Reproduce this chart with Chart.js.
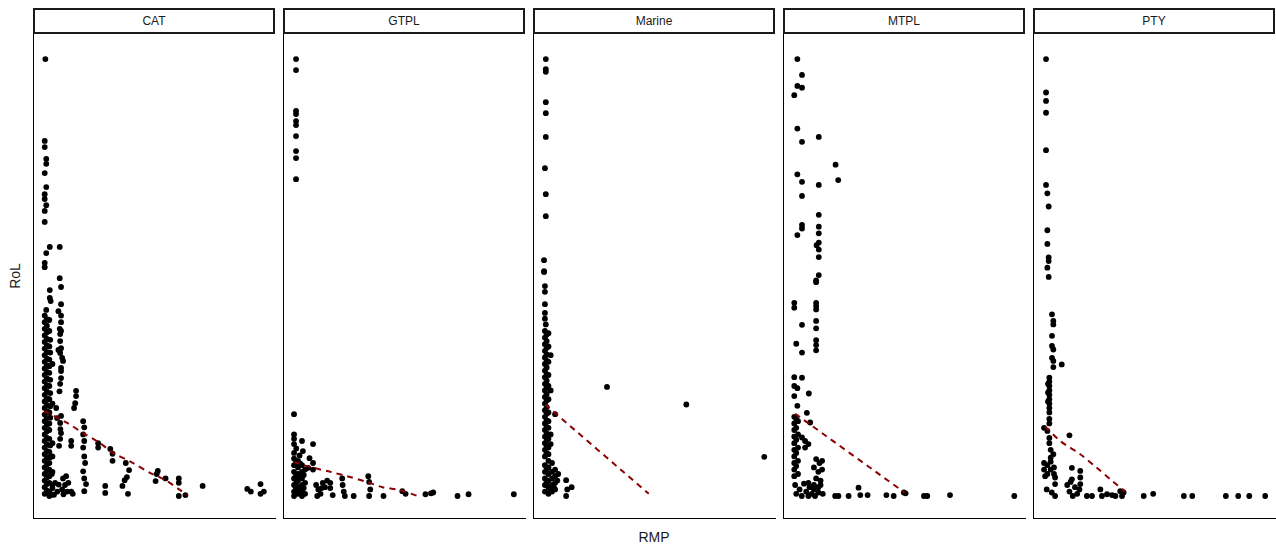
<!DOCTYPE html>
<html>
<head>
<meta charset="utf-8">
<script src="https://cdn.jsdelivr.net/npm/chart.js@4.4.0/dist/chart.umd.min.js"></script>
<style>
  body { margin: 0; background: #fff; width: 1276px; height: 546px; position: relative; overflow: hidden; font-family: "Liberation Sans", Arial, sans-serif; }
  .strip { position: absolute; top: 8px; height: 26px; width: 242px; box-sizing: border-box; border: 2px solid #1a1a1a; text-align: center; font-size: 12px; line-height: 22px; color: #1a1a1a; }
  .panel { position: absolute; top: 34px; }
  .panel canvas { display: block; }
  .ytitle { position: absolute; left: 15px; top: 276px; transform: translate(-50%, -50%) rotate(-90deg); font-size: 14px; color: #1a1a1a; }
  .xtitle { position: absolute; left: 654px; top: 537px; transform: translate(-50%, -50%); font-size: 14px; color: #1a1a1a; }
</style>
</head>
<body>
<div class="ytitle">RoL</div>
<div class="xtitle">RMP</div>
<div id="wrap"></div>
<script>
// facet labels
const facets = ['CAT', 'GTPL', 'Marine', 'MTPL', 'PTY'];

// points per facet, [RMP, RoL]
const catPoints = [
  [0.6,99.3],[0.3,80.7],[0.3,79.3],[1,76.6],[1,75.5],[0.3,73.4],[1,70.2],[0.3,68.6],[0.3,67.5],[1,66.1],[0.3,64.8],[0.3,62.3],
  [2.6,56.6],[7.1,56.6],[1,55.2],[0.3,53],[0.3,52],[7.1,49.5],[7.7,47.5],[2.6,46.8],[2.6,45],[3,44.3],[7.7,43.6],[1,42.3],
  [6.5,42],[7.7,41],[7.7,39.5],[7.1,38],[7.7,37.5],[7.3,36.8],[7.3,35.2],[7.7,33.6],[7.3,32.5],[8.2,31.4],[8.6,30.7],[7.7,29.1],
  [7.7,28.4],[7.7,26.8],[7.3,25.5],[14.5,23.9],[14.5,22.7],[14.1,21.1],[13.6,20],[5.5,20],[5.9,17.7],[7.7,18.2],[7.3,16.6],
  [7.7,14.3],[7.3,13],[6.8,11.4],[17.7,17],[18.2,15.6],[17.7,14],[18.2,12.5],[17.7,11],[18.2,9],[18.6,7.5],[17.7,5.6],[18.2,4],
  [18.2,1.1],[12.3,12.5],[12.3,11.4],[24.5,12],[24.5,11],[30,10.7],[31,9.6],[31,8],[37,7.5],[38.5,5.9],[37.5,4.3],[36.5,3.6],
  [35.5,2.3],[38,0.5],[27.7,2.3],[27.7,0.7],[19,2.7],[8.6,4],[9.5,2.5],[10.5,1],[8.2,1.5],[12.3,1],[11,3],[51,5],[50.5,3.4],
  [51.5,5.7],[55,4],[61,4],[61,3],[61,0],[64,0.2],[71.8,2.3],[92,1.6],[93.6,1],[98,2.7],[99.5,1],[98,0.5],
  [0.3,41],[0.3,39.5],[0.3,38],[0.3,36.5],[0.3,35],[0.3,33.5],[0.3,32],[0.3,30.5],[0.3,29],[0.3,27.5],[0.3,26],[0.3,24.5],
  [0.3,23],[0.3,21.5],[0.3,20],[0.3,18.5],[0.3,17],[0.3,15.5],[0.3,14],[0.3,12.5],[0.3,11],[0.3,9.5],[0.3,8],[0.3,6.5],
  [0.3,5],[0.3,3.5],[0.3,2],[0.3,0.5],
  [1.3,40.2],[1.3,38.7],[1.3,37.2],[1.3,35.7],[1.3,34.2],[1.3,32.7],[1.3,31.2],[1.3,29.7],[1.3,28.2],[1.3,26.7],[1.3,25.2],
  [1.3,23.7],[1.3,22.2],[1.3,20.7],[1.3,19.2],[1.3,17.7],[1.3,16.2],[1.3,14.7],[1.3,13.2],[1.3,11.7],[1.3,10.2],[1.3,8.7],
  [1.3,7.2],[1.3,5.7],[1.3,4.2],[1.3,2.7],[1.3,1.2],
  [2.4,40],[2.4,37.5],[2.4,34],[2.4,31],[2.4,29.5],[2.4,28],[2.4,25],[2.4,22],[2.4,19],[2.4,16.5],[2.4,15],[2.4,13],
  [2.4,10],[2.4,7.5],[2.4,6],[2.4,4.5],[2.4,3],[2.4,1],[2.4,0],
  [2.8,35.5],[2.8,32.6],[2.8,26.4],[2.8,23.4],[2.8,20.4],[2.8,17.8],[2.8,11.5],[2.8,8.8],
  [3.8,30],[3.8,21],[3.8,12],[3.8,9],[3.8,5.5],[3.8,2.5],[3.8,0.3],[3.8,1.8],
  [3.5,5],[5,3],[6,1],[4.5,0.3],[13,0.5],[10,4.5],[6.6,2.6],[8.8,0.4],[7.4,15.2],[6.5,33.2],[7,23.8]
];
const gtplPoints = [
  [0.9,99.3],[0.9,96.8],[0.9,87.5],[0.9,86.8],[0.9,85.2],[0.9,84.3],[0.9,81.8],[0.9,78.4],[0.9,76.8],[0.9,72],
  [0,18.6],[0,14],[0,13],[0,11.8],[0,9.8],[3.6,12.5],[8.6,11.8],[4,10.2],[7,8.6],[8.6,7.5],[6.4,6.4],[8.6,6],
  [0,8.5],[0,7],[0,5.5],[0,4],[0,2.5],[0,1],[0,0],[1.8,8],[1.8,6.5],[1.8,5],[1.8,3.5],[1.8,2],[1.8,0.5],
  [3.6,7],[3.6,5.5],[3.6,4],[3.6,2.5],[3.6,1],[3.6,0],[5,6],[5,3],[5,0.5],[2.5,9.2],[1,10.8],[1,3],
  [0.9,7.6],[0.9,4.6],[0.9,1.7],[2.7,7.4],[2.7,4.4],[2.7,1.3],[4.4,4.8],[4.4,1.8],
  [10,2.5],[11,1.5],[12,0.5],[13,3],[14,2],[10.5,0],[12.5,1.8],[15,3.5],[16.4,3],[16.4,1.8],[17.5,0.2],
  [21.8,4],[22,2.5],[22.5,1],[23,0],[27,0],
  [33.6,4.5],[34,3.2],[34.5,1.5],[34,0],[40.5,0],
  [49,1.1],[50.5,0.5],[59.5,0.4],[62,0.6],[63,0.8],[74,0],[79,0.4],[99.5,0.4]
];
const marinePoints = [
  [0.8,99.3],[0.8,97],[0.8,96.4],[0.8,89.5],[0.8,87],[0.8,81.6],[0.4,74.5],[0.8,68.6],[0.8,63.6],[0,53.6],[0,51.1],[0,50.9],
  [0.4,47.7],[0.4,46.4],[0.4,43.6],[0.4,41.6],[0.4,40.3],[0.8,39],
  [0.4,37.5],[0.4,36],[0.4,34.5],[0.4,33],[0.4,31.5],[0.4,30],[0.4,28.5],[0.4,27],[0.4,25.5],[0.4,24],[0.4,22.5],[0.4,21],
  [0.4,19.5],[0.4,18],[0.4,16.5],[0.4,15],[0.4,13.5],[0.4,12],[0.4,10.5],[0.4,9],
  [1.2,36.7],[1.2,35.2],[1.2,33.7],[1.2,32.2],[1.2,30.7],[1.2,29.2],[1.2,27.7],[1.2,26.2],[1.2,24.7],[1.2,23.2],[1.2,21.7],
  [1.2,20.2],[1.2,18.7],[1.2,17.2],[1.2,15.7],[1.2,14.2],[1.2,12.7],[1.2,11.2],[1.2,9.7],
  [2,37],[2,34],[2,30.5],[2,27.5],[2,25],[2,22],[2,19],[2,17],[2,15.5],[2,13],[2,11],[2,9.5],[2,8],
  [3,32],[3,24],[3,14],[3,11.8],
  [5,18.6],[28.5,24.8],[64.4,20.8],[99.7,8.9],
  [0.4,7],[0.4,5.5],[0.4,4],[0.4,2.5],[0.4,1],[2,6.5],[2,5],[2,3.5],[2,2],[2,0.5],[3.6,7.5],[3.6,5.5],[3.6,4],[3.6,2.5],
  [3.6,1],[5,6],[5,4.5],[5,3],[5,1.5],[6,3.5],[6.4,5],[1.2,6.2],[1.2,3],[2.8,1.2],[4.4,2],
  [10,3.6],[10.5,1.5],[12.5,2],[10,0]
];
const mtplPoints = [
  [1.5,99.3],[3.6,95.7],[1.5,93.2],[3.6,92.8],[0.1,91.1],[1.5,83.5],[3.6,80.5],[11.2,81.6],[18.8,75.3],[20,71.8],[1.5,73.1],
  [3.6,71.4],[11.2,70.7],[3.6,68.2],[11.2,63.9],[3.6,61.6],[3.6,60.8],[1.5,59.3],[11.2,61.2],[11.2,59.7],[11.2,57.6],[10.2,57],
  [11.2,56],[11.2,54.3],[11.2,50.2],[10,49],[10,48.6],[0.1,43.9],[0.1,42.8],[10,43.9],[10,43.2],[10,42.4],[10,39.8],[10,38.1],
  [3.6,38.9],[10,35.4],[10,34.3],[10,33.1],[1,34.6],[3.6,32.6],[0.1,27],[3.6,26.9],[0.1,25],[1.5,24.5],[0.1,22.7],[6.7,23.3],
  [1.5,20.5],
  [0.1,18],[0.1,16.5],[0.1,15],[0.1,13.5],[0.1,12],[0.1,10.5],[0.1,9],[0.1,7.5],[0.1,6],[0.1,4.5],
  [1.8,17],[1.8,14],[1.8,11],[1.8,8],[1.8,5],[1,17.5],[1,15.5],[1,12.8],[1,9.8],[1,6.8],
  [5.8,18.9],[7.3,16.7],[3.6,13.3],[5,12.5],[6.5,11.8],[5,11],
  [10,8.4],[11.5,7.5],[12.7,8],[9,6.5],[11,5.5],[12.7,6],[10,4],[12,3.5],[9,2.5],[11,2],
  [0.5,2.5],[1,0.5],[2.5,1.5],[3.5,0],[4.5,2.8],[5.5,1],[6.5,0],[7,2],[8,0.5],[9,1.5],[9.5,0],[11,0.8],[12,2.5],[13,0.5],[6.5,3],
  [18.6,0],[20.1,0],[24.7,0],[29.2,1.9],[30,0.2],[33.3,0.2],[41.8,0.2],[45.1,0],[49.7,0.8],[50.5,0.6],[58.8,0],[60.3,0],
  [70.6,0.2],[99.7,0]
];
const ptyPoints = [
  [0.9,99.3],[0.9,91.7],[0.9,89.8],[0.9,87.1],[0.9,78.6],[0.9,70.7],[1.5,68.8],[2.1,65.8],[1.5,60.4],[1.5,57.3],[2.1,54.2],
  [2.1,53.4],[1.5,51.9],[2.1,49.8],[3.6,41.3],[4.2,39.8],[4.2,39],[3.6,36.4],[3.6,34.1],[4.2,33.3],[3.6,31.4],[4.2,30.7],
  [4.2,29.3],[8,29.9],
  [2.4,26.9],[2.4,26],[2.4,25],[2.4,24],[2.4,23],[2.4,22],[2.4,21],[1.8,25.5],[1.8,23.5],[1.8,21.5],
  [2.4,20],[2.4,19],[2.4,17.5],[2.4,16.5],[0,15.5],[1.5,14.8],[2.4,13.2],[2.4,12],[3,10.5],[4.2,9.5],[3,8.7],[11.5,13.8],
  [0,7.5],[0,6],[1.5,7],[1.5,5],[3,7.8],[3,6],[4.5,6.5],[4.5,5],[0.5,4.5],[5,4.2],[5,2.7],[1.2,1.5],[3.5,0.8],[5,0],
  [12.6,6.4],[16.4,5.7],[16.4,4.2],[12.6,3.8],[16.4,2.7],
  [10.5,2.5],[11.5,1],[13,0],[14,2],[15,0.5],[16,1.5],[12,3.2],
  [19.4,0],[21.7,0],[25.5,1.5],[26.2,0],[28.5,0.4],[30.8,0.2],[32.3,0],[34.5,1.1],[36,0.8],[35.3,0],[45.1,0],[49.4,0.5],
  [63.3,0],[67.1,0],[82.3,0],[87.9,0],[92.9,0],[100.1,0]
];

// smoother per facet, [RMP, RoL]
const catFit = [[0,19.3],[10.5,16.6],[17.7,14.3],[24.5,12.3],[31.4,9.8],[39.5,7.7],[48.2,5.2],[55,3.6],[62.3,1.1],[65,0.2]];
const gtplFit = [[0,7.7],[8.6,6.4],[16.4,5.5],[24,4.5],[33,3.2],[40,2],[47.3,1.4],[56,0]];
const marineFit = [[0.5,20.8],[47.4,0.5]];
const mtplFit = [[0.5,18.7],[50,0.8]];
const ptyFit = [[0.5,15.8],[7.3,12.5],[16.4,9.5],[23.9,6.4],[30,3.8],[36.8,1]];

const allPoints = [catPoints, gtplPoints, marinePoints, mtplPoints, ptyPoints];
const allFits = [catFit, gtplFit, marineFit, mtplFit, ptyFit];
const panelLeft = [33, 283, 533, 783, 1033];

const toXY = arr => arr.map(p => ({ x: p[0], y: p[1] }));
const wrap = document.getElementById('wrap');

facets.forEach((name, i) => {
    const strip = document.createElement('div');
    strip.className = 'strip';
    strip.style.left = panelLeft[i] + 'px';
    strip.textContent = name;
    wrap.appendChild(strip);

    const holder = document.createElement('div');
    holder.className = 'panel';
    holder.style.left = panelLeft[i] + 'px';
    const canvas = document.createElement('canvas');
    canvas.width = 243;
    canvas.height = 485;
    holder.appendChild(canvas);
    wrap.appendChild(holder);

    new Chart(canvas, {
        type: 'scatter',
        data: {
            datasets: [{
                    data: toXY(allFits[i]),
                    showLine: true,
                    borderColor: '#8B0000',
                    borderWidth: 2,
                    borderDash: [6, 5],
                    pointRadius: 0,
                    tension: 0.3,
                    order: 0
                },
                {
                    data: toXY(allPoints[i]),
                    backgroundColor: '#000',
                    borderWidth: 0,
                    pointRadius: 2.9,
                    order: 1
                }
            ]
        },
        options: {
            responsive: false,
            animation: false,
            devicePixelRatio: 1,
            layout: { padding: { top: 0, left: 0, right: 0, bottom: 1 }, autoPadding: false },
            plugins: { legend: { display: false }, tooltip: { enabled: false } },
            scales: {
                x: {
                    min: -5, max: 105,
                    ticks: { display: false, padding: 0 },
                    grid: { display: false, drawTicks: false },
                    border: { display: true, color: '#000', width: 1 }
                },
                y: {
                    min: -5, max: 105,
                    ticks: { display: false, padding: 0 },
                    grid: { display: false, drawTicks: false },
                    border: { display: true, color: '#000', width: 1 }
                }
            }
        }
    });
});
</script>
</body>
</html>
